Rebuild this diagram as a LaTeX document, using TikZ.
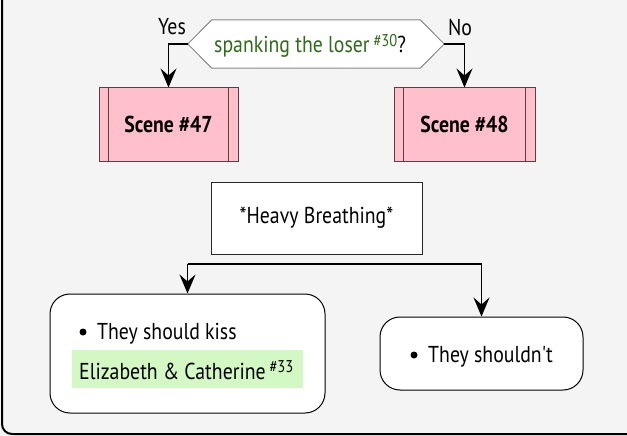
\documentclass[tikz,border=0pt]{standalone}
\usepackage{fontspec}
\newfontfamily\mainf{PT Sans}[FakeStretch=0.86]
\usetikzlibrary{arrows.meta,calc}
\definecolor{bg}{HTML}{F4F4F4}
\definecolor{pinkfill}{HTML}{FFC0CB}
\definecolor{pinkline}{HTML}{5B3F45}
\definecolor{grn}{HTML}{2F6B1A}
\definecolor{hl}{HTML}{D4F8C4}
\definecolor{hexline}{HTML}{888888}
\begin{document}
\begin{tikzpicture}[x=1pt,y=-1pt,
  font=\mainf\fontsize{23}{27}\selectfont,
  arr/.style={line width=1.5pt,-{Stealth[length=19pt,width=16pt,inset=7pt]}},
  scenebox/.style={draw=pinkline,fill=pinkfill,line width=1pt,minimum width=139pt,minimum height=73pt,inner sep=0pt,font=\mainf\fontsize{23}{27}\selectfont\bfseries},
  innerline/.style={draw=pinkline,line width=1pt},
  actbox/.style={draw=black,fill=white,line width=1pt,rounded corners=20pt,inner sep=0pt},
  plainbox/.style={draw=black!85,fill=white,line width=1pt,inner sep=0pt},
  txt/.style={inner sep=0pt,anchor=base west},
  bullet/.style={circle,fill=black,inner sep=0pt,minimum size=7pt},
  lbl/.style={inner sep=0pt}
]
\useasboundingbox (0,0) rectangle (627,436);
\fill[bg] (0,0) rectangle (627,436);
\begin{scope}
\clip (0,0) rectangle (627,436);
\draw[line width=2pt,rounded corners=10pt] (2,-40) rectangle (660,434);
\end{scope}

% decision hexagon
\node[minimum width=256pt,minimum height=48pt,inner sep=0pt] (q) at (316,44) {};
\draw[draw=hexline,fill=white,line width=1pt]
  (q.west) -- ($(q.north west)+(24,0)$) -- ($(q.north east)+(-24,0)$) -- (q.east)
  -- ($(q.south east)+(-24,0)$) -- ($(q.south west)+(24,0)$) -- cycle;
\node[txt] (qt) at (214,53) {\textcolor{grn}{spanking the loser\,\raisebox{0.55ex}{\fontsize{17}{17}\selectfont\#30}}?};

\node[lbl] (yes) at (172,27) {Yes};
\node[lbl] (no) at (460,27) {No};

% scenes
\node[scenebox] (s47) at (168.5,124.5) {Scene \#47};
\node[scenebox,minimum width=141pt] (s48) at (464.5,124.5) {Scene \#48};
\draw[innerline] ($(s47.north west)+(10,0)$) -- ($(s47.south west)+(10,0)$);
\draw[innerline] ($(s47.north east)+(-10,0)$) -- ($(s47.south east)+(-10,0)$);
\draw[innerline] ($(s48.north west)+(10,0)$) -- ($(s48.south west)+(10,0)$);
\draw[innerline] ($(s48.north east)+(-10,0)$) -- ($(s48.south east)+(-10,0)$);

\draw[arr] (q.west) -| (s47.north);
\draw[arr] (q.east) -| (s48.north);

% heavy breathing
\node[plainbox,minimum width=211pt,minimum height=72pt] (hb) at (316.5,218) {*Heavy Breathing*};

% fork
\node[actbox,minimum width=275pt,minimum height=119pt] (k1) at (187.5,353.5) {};
\node[actbox,minimum width=203pt,minimum height=73pt] (k2) at (481.5,353.5) {};
\coordinate (fl) at (187.5,264);
\coordinate (fr) at (481.5,264);
\draw[line width=2.6pt] (fl) -- (fr);
\draw[arr] (fl) -- (k1.north);
\draw[arr] (fr) -- (k2.north);

% left box content
\node[bullet] (b1) at (83,332) {};
\node[txt] (t1) at (97,339) {They should kiss};
\node[fill=hl,minimum width=231pt,minimum height=38pt,inner sep=0pt] (h) at (187.5,369) {};
\node[txt] (t2) at (79,379) {Elizabeth \& Catherine\,\raisebox{0.55ex}{\fontsize{17}{17}\selectfont\#33}};

% right box content
\node[bullet] (b2) at (414,355) {};
\node[txt] (t3) at (428,362) {They shouldn't};
\end{tikzpicture}
\end{document}
